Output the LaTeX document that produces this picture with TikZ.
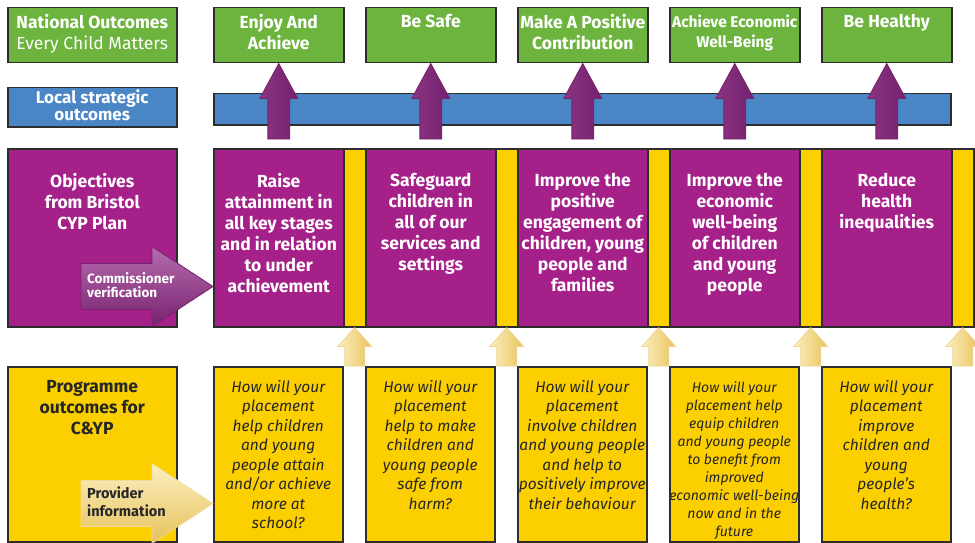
\documentclass[tikz,border=0pt]{standalone}
\usepackage{fontspec}
\setmainfont{Fira Sans}
\usetikzlibrary{positioning}
\usetikzlibrary{calc}

\definecolor{ecmgreen}{RGB}{109,180,62}
\definecolor{lsblue}{RGB}{74,134,197}
\definecolor{cyppurple}{RGB}{165,32,137}
\definecolor{progyellow}{RGB}{252,208,0}
\definecolor{rim}{RGB}{45,45,45}
\definecolor{ink}{RGB}{38,38,38}
\definecolor{liftlo}{RGB}{138,52,130}
\definecolor{lifthi}{RGB}{182,108,175}
\definecolor{liftdk}{RGB}{118,34,110}
\definecolor{feedlo}{RGB}{251,239,192}
\definecolor{feedhi}{RGB}{231,194,92}

\tikzset{box/.style={draw=rim,line width=1.5pt,inner sep=0pt,anchor=north west}}
\tikzset{natbox/.style={box,fill=ecmgreen,minimum width=130pt,minimum height=55pt}}
\tikzset{lsbox/.style={box,fill=lsblue}}
\tikzset{objbox/.style={box,fill=cyppurple,minimum width=130pt,minimum height=178pt}}
\tikzset{stripbox/.style={box,fill=progyellow,minimum width=22pt,minimum height=178pt}}
\tikzset{progbox/.style={box,fill=progyellow,minimum width=129pt,minimum height=175pt}}
\tikzset{hd/.style={inner sep=0pt,anchor=north,align=center,text=white,font=\bfseries\fontsize{17.5}{21}\selectfont}}
\tikzset{qn/.style={inner sep=0pt,anchor=north,align=center,text=ink,font=\itshape\fontsize{15.5}{19.5}\selectfont}}
\tikzset{tag/.style={inner sep=0pt,anchor=west,align=left,font=\bfseries\fontsize{13.5}{14}\selectfont}}
\tikzset{liftarrow/.style={draw=liftdk,line width=0.8pt,left color=liftlo,middle color=lifthi,right color=liftdk}}
\tikzset{feedarrow/.style={draw=feedhi!70!white,line width=0.6pt,left color=feedlo,right color=feedhi}}
\tikzset{commarrow/.style={draw=liftdk,line width=0.8pt,top color=lifthi,bottom color=liftdk}}
\tikzset{provarrow/.style={draw=feedhi!60!white,line width=0.6pt,top color=feedlo,bottom color=feedhi}}

\begin{document}
\begin{tikzpicture}[x=1pt,y=-1pt]
\useasboundingbox (0,0) rectangle (975,543);

% national outcomes
\node[natbox, minimum width=169pt] (nat) at (7,7) {};
\node[natbox] (enjoy) at (213,7) {};
\node[natbox] (safe) at (365,7) {};
\node[natbox] (contrib) at (517,7) {};
\node[natbox] (econ) at (669,7) {};
\node[natbox] (healthy) at (821,7) {};
\node[hd, below=7pt of nat.north] (natT) {National Outcomes\\\mdseries Every Child Matters};
\node[hd, below=7pt of enjoy.north] (enjoyT) {Enjoy And\\Achieve};
\node[hd, below=7pt of safe.north] (safeT) {Be Safe};
\node[hd, below=7pt of contrib.north] (contribT) {Make A Positive\\Contribution};
\node[hd, font=\bfseries\fontsize{15.5}{20}\selectfont, below=8pt of econ.north] (econT) {Achieve Economic\\Well-Being};
\node[hd, below=7pt of healthy.north] (healthyT) {Be Healthy};

% local strategic outcomes
\node[lsbox, minimum width=169pt, minimum height=39pt] (local) at (7,87) {};
\node[lsbox, minimum width=737pt, minimum height=31pt] (strat) at (213,93) {};
\node[hd, anchor=center, font=\bfseries\fontsize{17}{16.5}\selectfont] (localT) at ($(local.center)+(0,-2)$) {Local strategic\\outcomes};

% objectives
\node[objbox, minimum width=169pt] (obj) at (7,148) {};
\node[objbox] (raise) at (213,148) {};
\node[stripbox] (strip1) at (343,148) {};
\node[objbox] (safeguard) at (365,148) {};
\node[stripbox] (strip2) at (495,148) {};
\node[objbox] (engage) at (517,148) {};
\node[stripbox] (strip3) at (647,148) {};
\node[objbox] (wellbeing) at (669,148) {};
\node[stripbox] (strip4) at (799,148) {};
\node[objbox] (reduce) at (821,148) {};
\node[stripbox] (strip5) at (951,148) {};
\node[hd, below=25pt of obj.north] (objT) {Objectives\\from Bristol\\CYP Plan};
\node[hd, below=25pt of raise.north] (raiseT) {Raise\\attainment in\\all key stages\\and in relation\\to under\\achievement};
\node[hd, below=25pt of safeguard.north] (safeguardT) {Safeguard\\children in\\all of our\\services and\\settings};
\node[hd, below=25pt of engage.north] (engageT) {Improve the\\positive\\engagement of\\children, young\\people and\\families};
\node[hd, below=25pt of wellbeing.north] (wellbeingT) {Improve the\\economic\\well-being\\of children\\and young\\people};
\node[hd, below=25pt of reduce.north] (reduceT) {Reduce\\health\\inequalities};

% programme outcomes
\node[progbox, minimum width=169pt] (prog) at (7,366) {};
\node[progbox] (q1) at (213,366) {};
\node[progbox] (q2) at (365,366) {};
\node[progbox] (q3) at (517,366) {};
\node[progbox] (q4) at (669,366) {};
\node[progbox] (q5) at (821,366) {};
\node[hd, text=ink, below=14pt of prog.north] (progT) {Programme\\outcomes for\\C\&YP};
\node[qn, below=14pt of q1.north] (q1T) {How will your\\placement\\help children\\and young\\people attain\\and/or achieve\\more at\\school?};
\node[qn, below=14pt of q2.north] (q2T) {How will your\\placement\\help to make\\children and\\young people\\safe from\\harm?};
\node[qn, below=14pt of q3.north] (q3T) {How will your\\placement\\involve children\\and young people\\and help to\\positively improve\\their behaviour};
\node[qn, font=\itshape\fontsize{14}{18}\selectfont, below=15pt of q4.north] (q4T) {How will your\\placement help\\equip children\\and young people\\to benefit from\\improved\\economic well-being\\now and in the\\future};
\node[qn, below=14pt of q5.north] (q5T) {How will your\\placement\\improve\\children and\\young\\people’s\\health?};

% arrows up from the objectives
\foreach \a/\b in {raise/enjoy, safeguard/safe, engage/contrib, wellbeing/econ, reduce/healthy}
  \shadedraw[liftarrow] ($(\a.north)+(-11,-9)$) -- ($(\b.south)+(-11,35)$) -- ++(-8,0) -- (\b.south)
    -- ($(\b.south)+(19,35)$) -- ++(-8,0) -- ($(\a.north)+(11,-9)$) -- cycle;

\foreach \s/\q in {strip1/q1, strip2/q2, strip3/q3, strip4/q4, strip5/q5}
  \shadedraw[feedarrow] (\s.south) -- ++(17,19) -- ++(-7,0) -- ($(\s.south |- \q.north)+(10,0)$)
    -- ++(-20,0) -- ($(\s.south)+(-10,19)$) -- ++(-7,0) -- cycle;

% side arrows
\shadedraw[commarrow] ($(raise.south west)+(0,-41)$) -- ++(-61,-40) -- ++(0,17) -- ++(-71,0)
  -- ++(0,46) -- ++(71,0) -- ++(0,17) -- cycle;
\node[tag, text=white] (commT) at (87,285) {Commissioner\\verification};

\shadedraw[provarrow] ($(q1.south west)+(0,-39)$) -- ++(-61,-40) -- ++(0,17) -- ++(-71,0)
  -- ++(0,46) -- ++(71,0) -- ++(0,17) -- cycle;
\node[tag, text=ink, font=\bfseries\fontsize{14.5}{18}\selectfont] (provT) at (87,502) {Provider\\information};
\end{tikzpicture}
\end{document}
